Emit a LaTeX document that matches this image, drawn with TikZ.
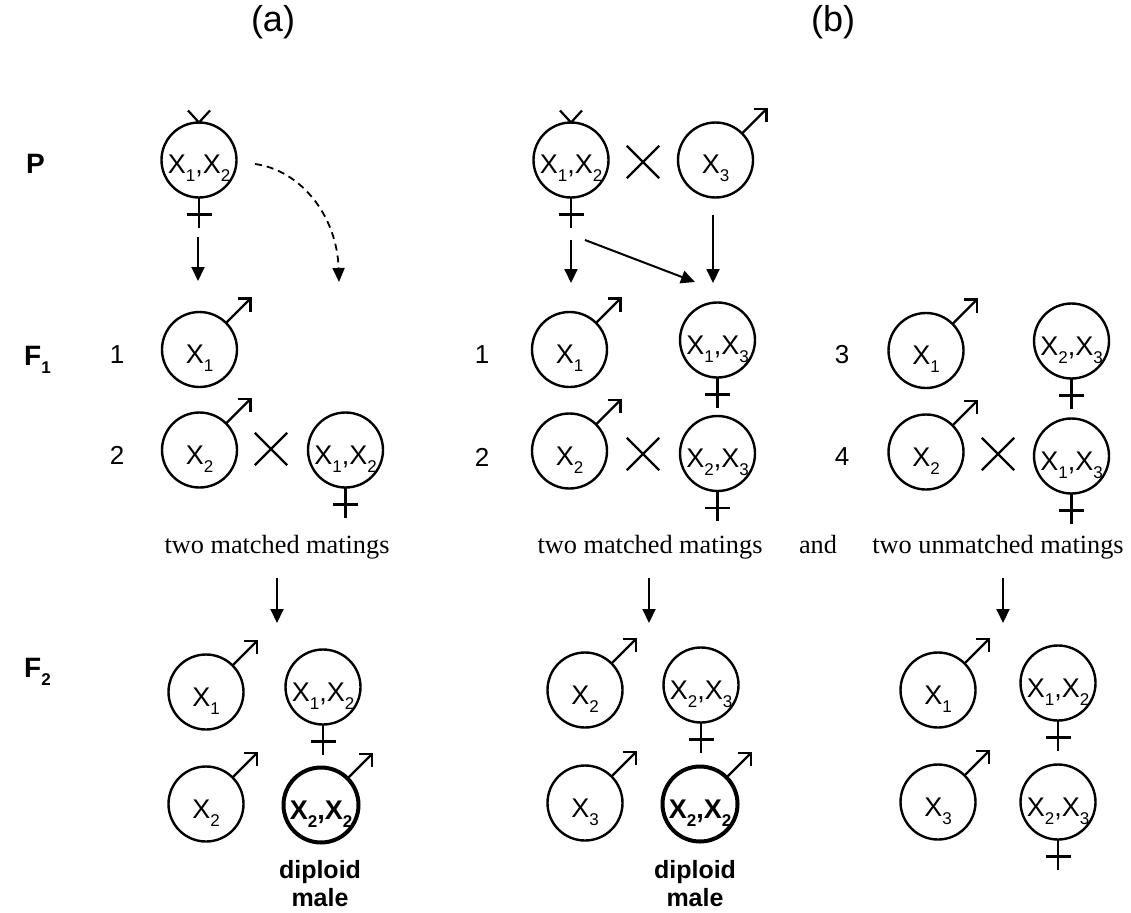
\documentclass[tikz,border=0pt]{standalone}
\usepackage{fontspec}
\setmainfont{Liberation Sans}
\newfontfamily\tnr{Liberation Serif}
\usetikzlibrary{arrows.meta,shapes.misc,calc}

\newcommand\sbx[1]{\raisebox{-8pt}{\fontsize{17pt}{17pt}\selectfont #1}}
\newcommand\malesym[1]{%
  \draw[sym] (#1.45) -- ($(#1.center)+(51,-51)$) coordinate (#1-tip);
  \draw[sym, line join=miter] ($(#1-tip)+(-13,0)$) -- (#1-tip) -- ($(#1-tip)+(0,13)$);}
\newcommand\femsym[1]{%
  \draw[sym] (#1.south) -- ++(0,30);
  \draw[sym] ($(#1.south)+(-12.5,17)$) -- ++(25,0);}
\newcommand\topv[1]{%
  \draw[sym] ($(#1.north)+(-11,-12)$) -- (#1.north) -- ($(#1.north)+(11,-12)$);}

\begin{document}
\begin{tikzpicture}[x=1pt,y=-1pt,
  circ/.style={circle, draw, line width=2.4pt, minimum size=75pt, inner sep=0pt, outer sep=0pt,
    font=\fontsize{27pt}{30pt}\selectfont, text height=28pt, text depth=0pt},
  circB/.style={circ, line width=4pt, font=\bfseries\fontsize{27pt}{30pt}\selectfont},
  sym/.style={line width=2.2pt},
  xmark/.style={cross out, draw, line width=2.4pt, minimum size=30pt, inner sep=0pt},
  arr/.style={line width=2pt, -{Triangle[length=14pt,width=13pt]}},
  darr/.style={line width=1.8pt, dash pattern=on 7pt off 5pt, -{Triangle[length=14pt,width=12pt]}},
  num/.style={font=\fontsize{26pt}{30pt}\selectfont},
  rowlab/.style={font=\bfseries\fontsize{28pt}{30pt}\selectfont, anchor=base west, inner sep=0pt},
  head/.style={font=\fontsize{36pt}{40pt}\selectfont},
  txt/.style={font=\tnr\fontsize{26.3pt}{30pt}\selectfont, anchor=base, inner sep=0pt},
  dip/.style={font=\bfseries\fontsize{25pt}{30pt}\selectfont, anchor=base, inner sep=0pt}]
\useasboundingbox (0,0) rectangle (1131,912);

% headers
\node[head] (ha) at (273,22) {(a)};
\node[head] (hb) at (833,22) {(b)};

% row labels
\node[rowlab] (lP) at (26,173) {P};
\node[rowlab] (lF1) at (24,365) {F\sbx{1}};
\node[rowlab] (lF2) at (24,677) {F\sbx{2}};

% ================= (a) =================
\node[circ] (aP) at (199,160) {X\sbx{1},X\sbx{2}};
\topv{aP}\femsym{aP}

\coordinate (aA1s) at (198,237);
\coordinate (aA1e) at (198,281);
\draw[arr] (aA1s) -- (aA1e);
\coordinate (aDs) at (255,164);
\coordinate (aDe) at (339,282);
\draw[darr] (aDs) .. controls (300,170) and (337,215) .. (aDe);

\node[num] (an1) at (117,355) {1};
\node[circ] (aF1m1) at (199.5,349.5) {X\sbx{1}};
\malesym{aF1m1}
\node[num] (an2) at (117,455) {2};
\node[circ] (aF1m2) at (199.5,450) {X\sbx{2}};
\malesym{aF1m2}
\node[xmark] (ax) at (271,449) {};
\node[circ] (aF1f) at (345.5,450) {X\sbx{1},X\sbx{2}};
\femsym{aF1f}

\node[txt] (aT) at (277,553) {two matched matings};
\coordinate (aA2s) at (277,578);
\coordinate (aA2e) at (277,623);
\draw[arr] (aA2s) -- (aA2e);

\node[circ] (aF2m1) at (206,692) {X\sbx{1}};
\malesym{aF2m1}
\node[circ] (aF2f) at (323,687) {X\sbx{1},X\sbx{2}};
\femsym{aF2f}
\node[circ] (aF2m2) at (206,804) {X\sbx{2}};
\malesym{aF2m2}
\node[circB] (aF2d) at (321,805) {X\sbx{2},X\sbx{2}};
\malesym{aF2d}
\node[dip] (aD1) at (320,878) {diploid};
\node[dip] (aD2) at (320,906) {male};

% ================= (b) =================
\node[circ] (bPf) at (571,160) {X\sbx{1},X\sbx{2}};
\topv{bPf}\femsym{bPf}
\node[xmark] (bx0) at (643,162) {};
\node[circ] (bPm) at (715.5,160) {X\sbx{3}};
\malesym{bPm}

\coordinate (bA1s) at (571,240);
\coordinate (bA1e) at (571,283);
\draw[arr] (bA1s) -- (bA1e);
\coordinate (bA2s) at (585,240);
\coordinate (bA2e) at (695,282);
\draw[arr] (bA2s) -- (bA2e);
\coordinate (bA3s) at (713,215);
\coordinate (bA3e) at (713,283);
\draw[arr] (bA3s) -- (bA3e);

\node[num] (bn1) at (482,355) {1};
\node[circ] (bF1m1) at (569.5,349.5) {X\sbx{1}};
\malesym{bF1m1}
\node[circ] (bF1f1) at (717.5,340) {X\sbx{1},X\sbx{3}};
\femsym{bF1f1}
\node[num] (bn2) at (482,457) {2};
\node[circ] (bF1m2) at (569.5,451) {X\sbx{2}};
\malesym{bF1m2}
\node[xmark] (bx1) at (643,454) {};
\node[circ] (bF1f2) at (717.5,453.5) {X\sbx{2},X\sbx{3}};
\femsym{bF1f2}

\node[num] (bn3) at (842,355) {3};
\node[circ] (bF1m3) at (926,350.5) {X\sbx{1}};
\malesym{bF1m3}
\node[circ] (bF1f3) at (1071.5,341) {X\sbx{2},X\sbx{3}};
\femsym{bF1f3}
\node[num] (bn4) at (842,457) {4};
\node[circ] (bF1m4) at (926,452) {X\sbx{2}};
\malesym{bF1m4}
\node[xmark] (bx2) at (998,454) {};
\node[circ] (bF1f4) at (1071.5,456) {X\sbx{1},X\sbx{3}};
\femsym{bF1f4}

\node[txt] (bT1) at (650,553) {two matched matings};
\node[txt] (bT2) at (818,553) {and};
\node[txt] (bT3) at (998,553) {two unmatched matings};

\coordinate (bA4s) at (649,578);
\coordinate (bA4e) at (649,623);
\draw[arr] (bA4s) -- (bA4e);
\coordinate (bA5s) at (1003,578);
\coordinate (bA5e) at (1003,623);
\draw[arr] (bA5s) -- (bA5e);

\node[circ] (bF2m1) at (585,690) {X\sbx{2}};
\malesym{bF2m1}
\node[circ] (bF2f) at (701,685) {X\sbx{2},X\sbx{3}};
\femsym{bF2f}
\node[circ] (bF2m2) at (585,803) {X\sbx{3}};
\malesym{bF2m2}
\node[circB] (bF2d) at (700,804) {X\sbx{2},X\sbx{2}};
\malesym{bF2d}
\node[dip] (bD1) at (695,878) {diploid};
\node[dip] (bD2) at (695,906) {male};

\node[circ] (cF2m1) at (938,690) {X\sbx{1}};
\malesym{cF2m1}
\node[circ] (cF2f1) at (1058,683) {X\sbx{1},X\sbx{2}};
\femsym{cF2f1}
\node[circ] (cF2m2) at (938,802) {X\sbx{3}};
\malesym{cF2m2}
\node[circ] (cF2f2) at (1058,802) {X\sbx{2},X\sbx{3}};
\femsym{cF2f2}
\end{tikzpicture}
\end{document}
